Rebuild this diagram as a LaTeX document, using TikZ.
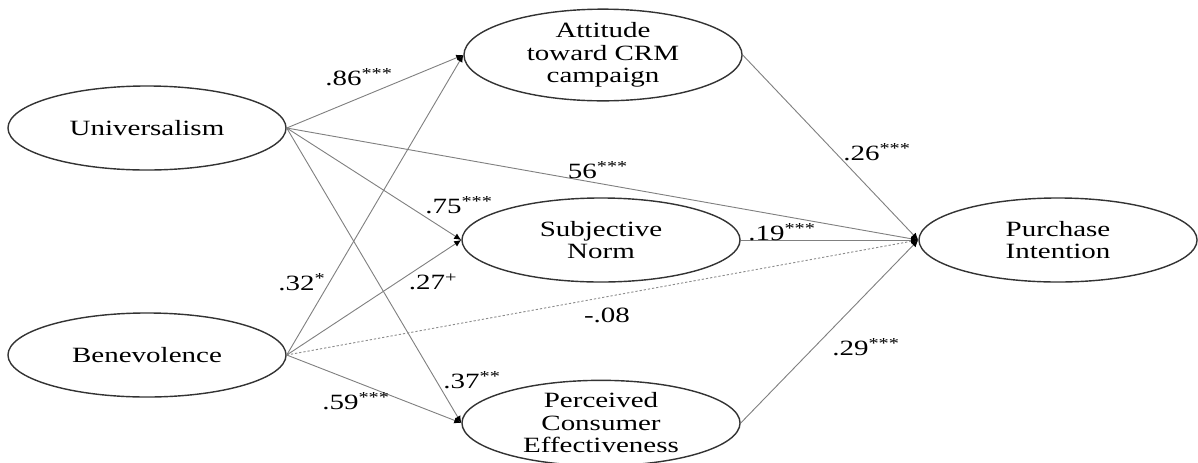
\documentclass[tikz,border=0pt]{standalone}
\usepackage{fontspec}
\setmainfont{Liberation Serif}[FakeStretch=1.33]
\usetikzlibrary{shapes.geometric,arrows.meta}
\begin{document}
\begin{tikzpicture}[x=0.025cm,y=-0.025cm,
  latent/.style={ellipse,draw=black!80,line width=1pt,minimum width=6.95cm,
    minimum height=2.1cm,inner sep=0pt,align=center,
    font=\fontsize{15.5}{16}\selectfont},
  conn/.style={draw=black!50,line width=0.65pt,-{Latex[length=5pt,width=4.5pt,color=black]}},
  dotconn/.style={conn,draw=black!45,dash pattern=on 1.6pt off 1.4pt},
  lbl/.style={inner sep=0pt,font=\fontsize{15.5}{16}\selectfont}]
\useasboundingbox (0,0) rectangle (1198,462);

\node[latent] (U) at (147,128) {Universalism};
\node[latent] (B) at (147,355) {Benevolence};
\node[latent] (A) at (603,55) {Attitude\\toward CRM\\campaign};
\node[latent] (S) at (601,240) {Subjective\\Norm};
\node[latent] (C) at (601,423) {Perceived\\Consumer\\Effectiveness};
\node[latent] (P) at (1058,240) {Purchase\\Intention};

\draw[conn] (U.east) -- (A.west);
\draw[conn] (U.east) -- (S.west);
\draw[conn] (U.east) -- (C.west);
\draw[conn] (U.east) -- (P.west);
\draw[conn] (B.east) -- (A.west);
\draw[conn] (B.east) -- (S.west);
\draw[conn] (B.east) -- (C.west);
\draw[dotconn] (B.east) -- (P.west);
\draw[conn] (A.east) -- (P.west);
\draw[conn] (S.east) -- (P.west);
\draw[conn] (C.east) -- (P.west);

\node[lbl] (l86) at (359,77) {.86\textsuperscript{***}};
\node[lbl] (l75) at (459,205) {.75\textsuperscript{***}};
\node[lbl] (l56) at (598,170) {56\textsuperscript{***}};
\node[lbl] (l32) at (302,282) {.32\textsuperscript{*}};
\node[lbl] (l27) at (433,282) {.27\textsuperscript{+}};
\node[lbl] (l08) at (607,315) {-.08};
\node[lbl] (l37) at (472,380) {.37\textsuperscript{**}};
\node[lbl] (l59) at (356,401) {.59\textsuperscript{***}};
\node[lbl] (l26) at (877,152) {.26\textsuperscript{***}};
\node[lbl] (l19) at (782,232) {.19\textsuperscript{***}};
\node[lbl] (l29) at (866,347) {.29\textsuperscript{***}};
\end{tikzpicture}
\end{document}
